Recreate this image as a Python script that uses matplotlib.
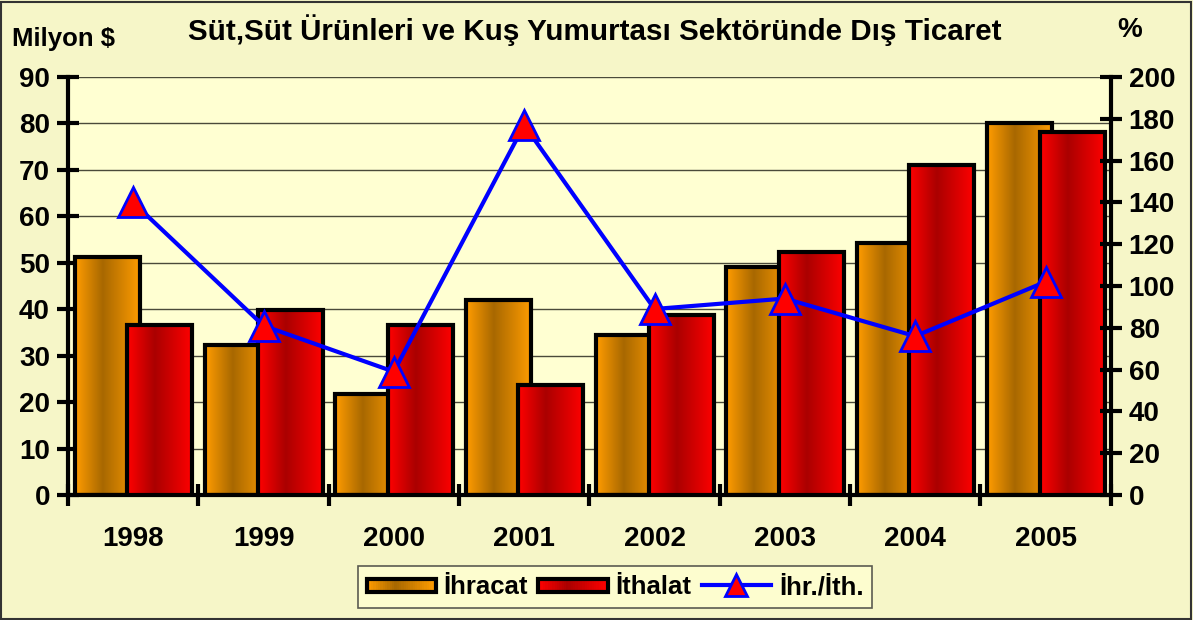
import numpy as np
import matplotlib
matplotlib.use("Agg")
import matplotlib.pyplot as plt
from matplotlib.patches import Rectangle
from matplotlib.legend_handler import HandlerBase
from matplotlib.lines import Line2D

years = ["1998", "1999", "2000", "2001", "2002", "2003", "2004", "2005"]
ihracat = [51.2, 32.3, 21.7, 42.0, 34.5, 49.1, 54.3, 80.1]
ithalat = [36.6, 39.8, 36.6, 23.7, 38.8, 52.3, 71.1, 78.2]
oran = [140, 81, 59, 177, 89, 94, 76, 102]

plt.rcParams['font.family'] = ['Liberation Sans', 'DejaVu Sans']
plt.rcParams['font.weight'] = 'bold'

ORANGE = ['#ff9c00', '#a86800', '#ff9c00']
RED = ['#ff0000', '#aa0000', '#ff0000']


def gradient_colors(cols, n=64, mid=0.42):
    c0 = np.array(matplotlib.colors.to_rgb(cols[0]))
    c1 = np.array(matplotlib.colors.to_rgb(cols[1]))
    c2 = np.array(matplotlib.colors.to_rgb(cols[2]))
    t = np.linspace(0, 1, n)
    out = []
    for v in t:
        if v < mid:
            f = v / mid
            out.append(c0 + (c1 - c0) * f)
        else:
            f = (v - mid) / (1 - mid)
            out.append(c1 + (c2 - c1) * f)
    return np.array(out)


def gradient_bars(ax, x, h, width, cols, z):
    bars = ax.bar(x, h, width, facecolor='none', edgecolor='black',
                  linewidth=3, zorder=z + 0.1)
    img = gradient_colors(cols)[np.newaxis, :, :]
    for b in bars:
        x0, w = b.get_x(), b.get_width()
        im = ax.imshow(img, extent=[x0, x0 + w, 0, b.get_height()],
                       aspect='auto', zorder=z, interpolation='bilinear')
        im.set_clip_path(b)
    return bars


class GradientHandler(HandlerBase):
    def __init__(self, cols):
        super().__init__()
        self.cols = cols

    def create_artists(self, legend, orig, xdescent, ydescent, width, height,
                       fontsize, trans):
        arts = []
        g = gradient_colors(self.cols, n=30)
        y0 = -ydescent + height * 0.12
        hh = height * 0.72
        for i in range(30):
            r = Rectangle((-xdescent + width * i / 30, y0), width / 30 + 0.3, hh,
                          facecolor=g[i], edgecolor='none', transform=trans)
            arts.append(r)
        arts.append(Rectangle((-xdescent, y0), width, hh, facecolor='none',
                              edgecolor='black', linewidth=3, transform=trans))
        return arts


fig = plt.figure(figsize=(11.93, 6.2), dpi=100)
fig.patch.set_facecolor('#f6f6c8')
ax = fig.add_axes([0.057, 0.2016, 0.874, 0.6742])
ax.set_facecolor('#ffffd2')

x = np.arange(len(years))
b1 = gradient_bars(ax, x - 0.2, ihracat, 0.5, ORANGE, 2)
b2 = gradient_bars(ax, x + 0.205, ithalat, 0.5, RED, 3)

ax.set_xlim(-0.5, len(years) - 0.5)
ax.set_ylim(0, 90)
ax.set_yticks(np.arange(0, 91, 10))
ax.yaxis.grid(True, color='#4a4a3a', linewidth=1.0)
ax.set_axisbelow(True)
ax.set_xticks(np.arange(-0.5, len(years), 1))
ax.set_xticklabels([])
ax.set_xticks(x, minor=True)
ax.set_xticklabels(years, minor=True)
ax.tick_params(axis='x', which='minor', length=0, pad=22, labelsize=20)
ax.tick_params(axis='x', which='major', direction='inout', length=16, width=3)
ax.tick_params(axis='y', direction='inout', length=16, width=3, labelsize=20, pad=5)
for s in ['top', 'right']:
    ax.spines[s].set_visible(False)
for s in ['left', 'bottom']:
    ax.spines[s].set_linewidth(3)

ax2 = ax.twinx()
ax2.set_ylim(0, 200)
ax2.set_yticks(np.arange(0, 201, 20))
ax2.tick_params(axis='y', direction='inout', length=16, width=3, labelsize=20, pad=5)
for s in ['top', 'left', 'bottom']:
    ax2.spines[s].set_visible(False)
ax2.spines['right'].set_linewidth(3)
ax2.plot(x, oran, color='#0000ff', linewidth=3, marker='^', markersize=21,
         markerfacecolor='#ff0000', markeredgecolor='#0000ff', markeredgewidth=2,
         zorder=5)

fig.text(0.4985, 0.952, "Süt,Süt Ürünleri ve Kuş Yumurtası Sektöründe Dış Ticaret",
         ha='center', va='center', fontsize=21.3, fontweight='bold')
fig.text(0.01, 0.937, "Milyon $", ha='left', va='center', fontsize=18.5, fontweight='bold')
fig.text(0.947, 0.952, "%", ha='center', va='center', fontsize=20, fontweight='bold')

handles = [Rectangle((0, 0), 1, 1), Rectangle((0, 0), 1, 1),
           Line2D([], [], color='#0000ff', linewidth=3, marker='^', markersize=16,
                  markerfacecolor='#ff0000', markeredgecolor='#0000ff', markeredgewidth=2)]
leg = fig.legend(handles, ["İhracat", "İthalat", "İhr./İth."],
                 handler_map={handles[0]: GradientHandler(ORANGE),
                              handles[1]: GradientHandler(RED)},
                 loc='center', bbox_to_anchor=(0.5155, 0.053), ncol=3,
                 fontsize=18.5, frameon=True, fancybox=False, handlelength=2.7,
                 handletextpad=0.3, columnspacing=0.4, borderpad=0.35)
leg.get_frame().set_facecolor('#ffffd2')
leg.get_frame().set_edgecolor('#333333')
leg.get_frame().set_linewidth(1.2)

fig.patches.append(Rectangle((0.001, 0.002), 0.997, 0.995, transform=fig.transFigure,
                             facecolor='none', edgecolor='#333333', linewidth=1.5))

fig.savefig("out.png", dpi=100, facecolor=fig.get_facecolor())
